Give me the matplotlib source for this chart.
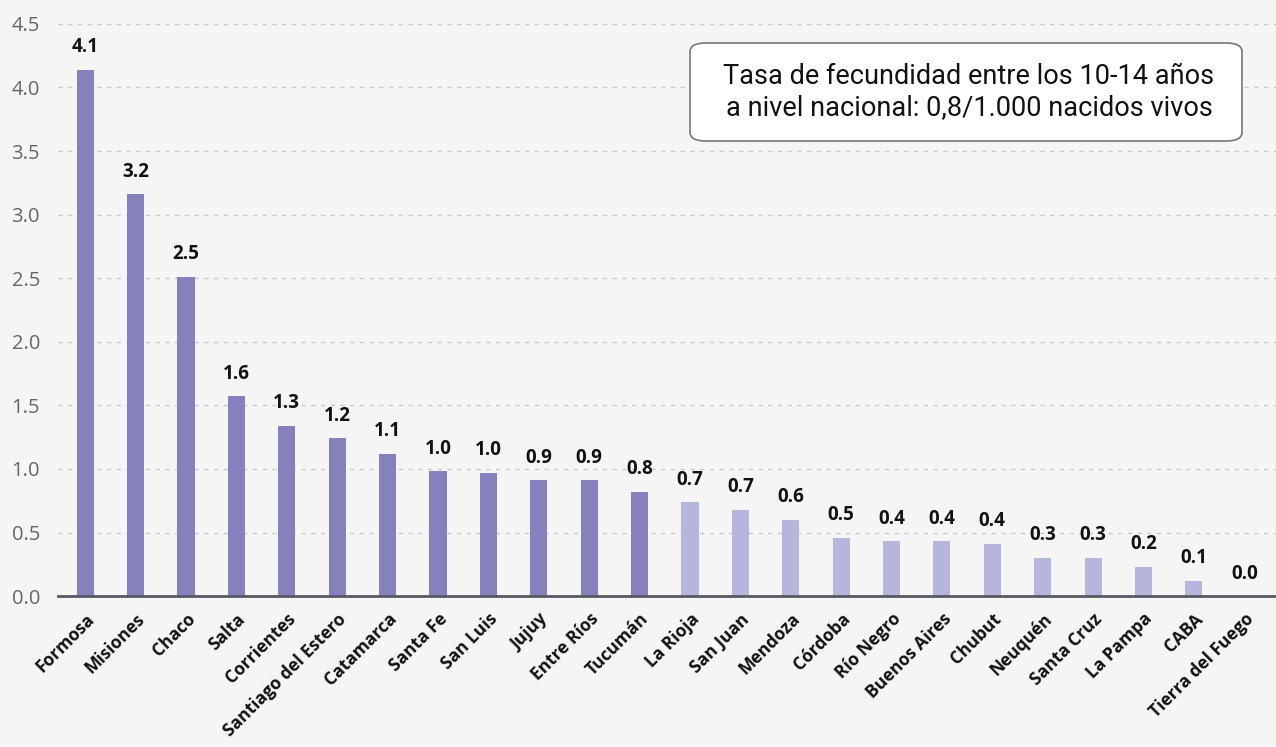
import matplotlib.pyplot as plt
from matplotlib.patches import FancyBboxPatch

provincias = ["Formosa", "Misiones", "Chaco", "Salta", "Corrientes", "Santiago del Estero",
              "Catamarca", "Santa Fe", "San Luis", "Jujuy", "Entre Ríos", "Tucumán",
              "La Rioja", "San Juan", "Mendoza", "Córdoba", "Río Negro", "Buenos Aires",
              "Chubut", "Neuquén", "Santa Cruz", "La Pampa", "CABA", "Tierra del Fuego"]
tasas = [4.14, 3.16, 2.51, 1.57, 1.34, 1.24, 1.12, 0.98, 0.97, 0.91, 0.91, 0.82,
         0.74, 0.68, 0.60, 0.46, 0.43, 0.43, 0.41, 0.30, 0.30, 0.23, 0.12, 0.0]
etiquetas = ["4.1", "3.2", "2.5", "1.6", "1.3", "1.2", "1.1", "1.0", "1.0", "0.9", "0.9", "0.8",
             "0.7", "0.7", "0.6", "0.5", "0.4", "0.4", "0.4", "0.3", "0.3", "0.2", "0.1", "0.0"]
n_destacadas = 12  # first group drawn in the darker tone

color_alto = "#8481bd"
color_bajo = "#b6b5db"
fondo = "#f5f5f5"

plt.rcParams['font.family'] = ['Open Sans', 'DejaVu Sans']

fig = plt.figure(figsize=(12.76, 7.47), dpi=100, facecolor=fondo)
ax = fig.add_axes([0.0455, 0.202, 0.9545, 0.766])
ax.set_facecolor(fondo)

x = list(range(len(provincias)))
colores = [color_alto if i < n_destacadas else color_bajo for i in x]
ax.bar(x, tasas, width=0.34, color=colores, zorder=3)

for i, (v, txt) in enumerate(zip(tasas, etiquetas)):
    ax.annotate(txt, (i, v), xytext=(0, 9), textcoords="offset points",
                ha="center", va="bottom", fontsize=13.5, fontweight="bold", color="#111111")

ax.set_xlim(-0.54, 23.63)
ax.set_ylim(0, 4.5)
ax.set_yticks([0, 0.5, 1.0, 1.5, 2.0, 2.5, 3.0, 3.5, 4.0, 4.5])
ax.set_yticklabels([f"{t:.1f}" for t in ax.get_yticks()], fontsize=14.5, color="#666666")
ax.yaxis.grid(True, linestyle=(0, (3, 4)), color="#c8c8c8", linewidth=1, zorder=0)
ax.tick_params(axis="y", length=0, pad=13)

ax.set_xticks(x)
ax.set_xticklabels(provincias, rotation=45, ha="right", rotation_mode="anchor",
                   fontsize=12.5, fontweight="bold", color="#111111")
ax.tick_params(axis="x", length=0, pad=10)

for s in ["top", "right", "left"]:
    ax.spines[s].set_visible(False)
ax.spines["bottom"].set_color("#555a63")
ax.spines["bottom"].set_linewidth(2)
ax.spines["bottom"].set_zorder(4)

caja = FancyBboxPatch((690 / 1276, 1 - 141 / 747), (1242 - 690) / 1276, (141 - 43) / 747,
                      boxstyle="round,pad=0,rounding_size=0.012", transform=fig.transFigure,
                      facecolor="white", edgecolor="#777777", linewidth=1.2, zorder=5)
fig.patches.append(caja)
fig.text(969 / 1276, 1 - 92 / 747,
         "Tasa de fecundidad entre los 10-14 años\na nivel nacional: 0,8/1.000 nacidos vivos",
         ha="center", va="center", fontsize=19.5, color="#111111", linespacing=1.2,
         family=["Roboto", "DejaVu Sans"], zorder=6)

fig.savefig("out.png", dpi=100, facecolor=fondo)
